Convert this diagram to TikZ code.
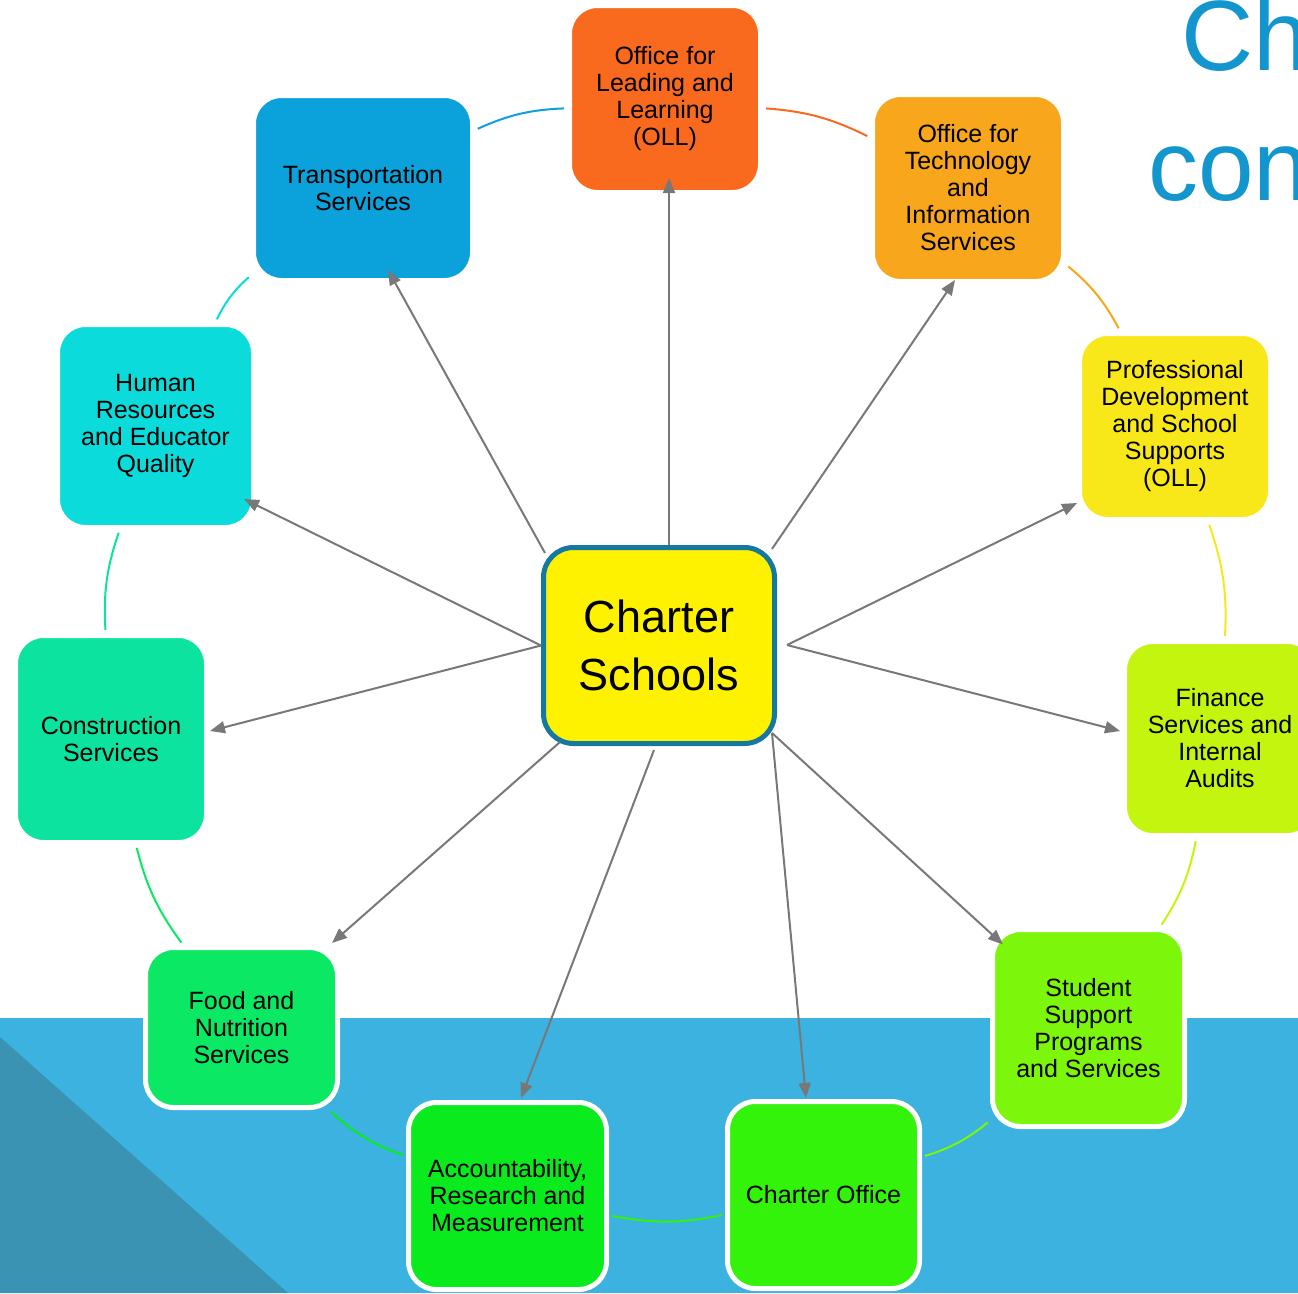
\documentclass[tikz,border=0pt]{standalone}
\usepackage{fontspec}
\setmainfont{Liberation Sans}
\usetikzlibrary{arrows.meta,calc}
\definecolor{ollC}{RGB}{249,106,30}
\definecolor{otisC}{RGB}{248,166,27}
\definecolor{pdC}{RGB}{248,232,26}
\definecolor{finC}{RGB}{195,245,15}
\definecolor{stuC}{RGB}{124,247,12}
\definecolor{coC}{RGB}{51,243,10}
\definecolor{accC}{RGB}{10,235,30}
\definecolor{foodC}{RGB}{10,232,100}
\definecolor{consC}{RGB}{11,227,158}
\definecolor{hrC}{RGB}{11,220,219}
\definecolor{transC}{RGB}{11,161,218}
\definecolor{centerBorder}{RGB}{20,120,160}
\definecolor{bandC}{RGB}{59,178,223}
\definecolor{darkC}{RGB}{58,147,178}
\definecolor{titleC}{RGB}{18,150,205}
\definecolor{arrowC}{RGB}{120,120,120}
\begin{document}
\begin{tikzpicture}[x=1pt,y=-1pt,
  box/.style={draw=white,line width=5pt,rounded corners=28pt,align=center,
    font=\fontsize{25}{27}\selectfont,inner sep=0pt,text=black},
  hub/.style={draw=centerBorder,fill=yellow,line width=5pt,rounded corners=30pt,
    align=center,font=\fontsize{45}{58}\selectfont,inner sep=0pt,
    minimum width=231pt,minimum height=196pt},
  spoke/.style={draw=arrowC,line width=2pt,-{Triangle[length=15pt,width=12pt]}},
  ring/.style={line width=2pt,shorten <=3pt,shorten >=3pt},
  title/.style={font=\fontsize{100}{100}\selectfont,text=titleC,inner sep=0pt,anchor=base west}]
\useasboundingbox (0,0) rectangle (1298,1293);
\clip (0,0) rectangle (1298,1293);
% background
\fill[bandC] (0,1018) rectangle (1298,1293);
\fill[darkC] (0,1037) -- (288,1293) -- (0,1293) -- cycle;
% title fragments
\node[title] (t1) at (1181,70) {Ch};
\node[title] (t2) at (1148,200) {con};
% nodes
\node[hub] (cs) at (659,645.5) {Charter\\Schools};
\node[box,fill=ollC,minimum width=191pt,minimum height=187pt] (oll) at (665,99) {Office for\\Leading and\\Learning\\(OLL)};
\node[box,fill=otisC,minimum width=191pt,minimum height=187pt] (otis) at (968,188) {Office for\\Technology\\and\\Information\\Services};
\node[box,fill=pdC,minimum width=191pt,minimum height=186pt] (pd) at (1175,426.5) {Professional\\Development\\and School\\Supports\\(OLL)};
\node[box,fill=finC,minimum width=191pt,minimum height=194pt] (fin) at (1220,738.5) {Finance\\Services and\\Internal\\Audits};
\node[box,fill=stuC,minimum width=192pt,minimum height=197pt] (stu) at (1088.5,1028) {Student\\Support\\Programs\\and Services};
\node[box,fill=coC,minimum width=192pt,minimum height=187pt] (co) at (823.5,1195) {Charter Office};
\node[box,fill=accC,minimum width=198pt,minimum height=187pt] (acc) at (507.5,1196) {Accountability,\\Research and\\Measurement};
\node[box,fill=foodC,minimum width=192pt,minimum height=160pt] (food) at (241.5,1027.5) {Food and\\Nutrition\\Services};
\node[box,fill=consC,minimum width=191pt,minimum height=207pt] (cons) at (111,739) {Construction\\Services};
\node[box,fill=hrC,minimum width=196pt,minimum height=203pt] (hr) at (155.5,426) {Human\\Resources\\and Educator\\Quality};
\node[box,fill=transC,minimum width=219pt,minimum height=185pt] (trans) at (363,188) {Transportation\\Services};
% ring connectors
\draw[ring,transC] (trans) to[bend left=11] (oll);
\draw[ring,ollC] (oll) to[bend left=11] (otis);
\draw[ring,otisC] (otis) to[bend left=11] (pd);
\draw[ring,pdC] (pd) to[bend left=11] (fin);
\draw[ring,finC] (fin) to[bend left=11] (stu);
\draw[ring,stuC] (stu) to[bend left=11] (co);
\draw[ring,coC] (co) to[bend left=11] (acc);
\draw[ring,accC] (acc) to[bend left=11] (food);
\draw[ring,foodC] (food) to[bend left=11] (cons);
\draw[ring,consC] (cons) to[bend left=11] (hr);
\draw[ring,hrC] (hr) to[bend left=11] (trans);
% spokes
\draw[spoke] ($(cs)+(10,-100.5)$) -- ($(oll)+(4,79)$);
\draw[spoke] ($(cs)+(-114,-92.5)$) -- ($(trans)+(25,82)$);
\draw[spoke] ($(cs)+(113,-96.5)$) -- ($(otis)+(-13,92)$);
\draw[spoke] ($(cs)+(128,-0.5)$) -- ($(pd)+(-98,76.5)$);
\draw[spoke] ($(cs)+(128,-0.5)$) -- ($(fin)+(-100,-7.5)$);
\draw[spoke] ($(cs)+(113,87.5)$) -- ($(stu)+(-85.5,-83.5)$);
\draw[spoke] ($(cs)+(113,87.5)$) -- ($(co)+(-17.5,-97)$);
\draw[spoke] ($(cs)+(-5,104.5)$) -- ($(acc)+(13.5,-98)$);
\draw[spoke] ($(cs)+(-99,96.5)$) -- ($(food)+(90.5,-84.5)$);
\draw[spoke] ($(cs)+(-118,0)$) -- ($(cons)+(99,-8)$);
\draw[spoke] ($(cs)+(-118,0)$) -- ($(hr)+(88.5,73)$);
\end{tikzpicture}
\end{document}
